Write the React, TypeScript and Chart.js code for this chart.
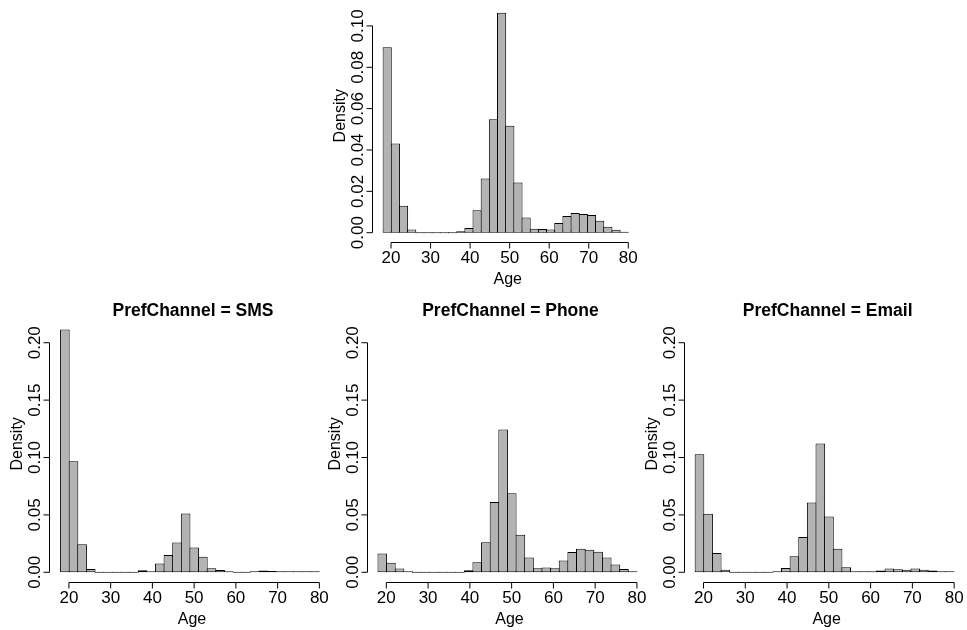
import React, { useEffect, useRef } from "react";
import { Chart, registerables } from "chart.js";

Chart.register(...registerables);

// ---------------- data ----------------
const AGE_BREAKS = [
  18, 20.07, 22.13, 24.2, 26.27, 28.33, 30.4, 32.47, 34.53, 36.6, 38.67,
  40.73, 42.8, 44.87, 46.93, 49, 51.07, 53.13, 55.2, 57.27, 59.33, 61.4,
  63.47, 65.53, 67.6, 69.67, 71.73, 73.8, 75.87, 77.93, 80,
];

const DENSITY_ALL = [
  0.0897, 0.0432, 0.013, 0.0016, 0, 0, 0, 0, 0, 0.0007, 0.0023, 0.0108,
  0.0262, 0.0549, 0.1064, 0.0517, 0.0243, 0.0074, 0.0019, 0.0018, 0.0016,
  0.0047, 0.0081, 0.0095, 0.009, 0.0085, 0.0058, 0.0029, 0.0014, 0.0003,
];

const DENSITY_SMS = [
  0.2116, 0.0968, 0.0244, 0.0029, 0, 0, 0, 0, 0, 0.0017, 0.0006, 0.0076,
  0.0151, 0.0259, 0.0512, 0.0215, 0.0136, 0.0035, 0.002, 0.0006, 0, 0,
  0.0006, 0.0015, 0.0012, 0.0009, 0.0006, 0.0003, 0.0003, 0.0002,
];

const DENSITY_PHONE = [
  0.0163, 0.0084, 0.0032, 0.0006, 0, 0, 0, 0, 0, 0, 0.0017, 0.0087, 0.0261,
  0.0613, 0.1243, 0.0688, 0.0328, 0.0128, 0.0035, 0.0041, 0.0035, 0.0102,
  0.0177, 0.0206, 0.0197, 0.018, 0.0128, 0.0067, 0.0029, 0.0006,
];

const DENSITY_EMAIL = [
  0.1028, 0.0511, 0.0168, 0.0023, 0, 0, 0, 0, 0, 0.0006, 0.0038, 0.0139,
  0.0308, 0.0607, 0.1121, 0.0485, 0.0206, 0.0044, 0.0006, 0.0006, 0.0003,
  0.0015, 0.0032, 0.0026, 0.0023, 0.0032, 0.0023, 0.0015, 0.0006, 0.0003,
];

const AGE_TICKS = [20, 30, 40, 50, 60, 70, 80];
const DENSITY_TICKS_ALL = [0, 0.02, 0.04, 0.06, 0.08, 0.1];
const DENSITY_TICKS_CHANNEL = [0, 0.05, 0.1, 0.15, 0.2];

const X_TITLE = "Age";
const Y_TITLE = "Density";
const TITLE_ALL = "";
const TITLE_SMS = "PrefChannel = SMS";
const TITLE_PHONE = "PrefChannel = Phone";
const TITLE_EMAIL = "PrefChannel = Email";

// ---------------- style / layout ----------------
const W = 967;
const H = 630;
const FONT = '"Liberation Sans", Arial, Helvetica, sans-serif';
const TICK_FONT = 17;
const LABEL_FONT = 16;
const TITLE_FONT = 17.5;
const TICK_LEN = 6;
const BAR_FILL = "#b3b3b3";

type Area = { left: number; right: number; top: number; bottom: number };
type PanelSpec = {
  values: number[];
  yTicks: number[];
  yMax: number;
  title: string;
  area: Area;
};

const CHANNEL_MAX = Math.max(...DENSITY_SMS, ...DENSITY_PHONE, ...DENSITY_EMAIL);
const ALL_MAX = Math.max(...DENSITY_ALL);

const BOTTOM_TOP = 319.7;
const BOTTOM_BOTTOM = 582.0;

const PANELS: PanelSpec[] = [
  {
    values: DENSITY_ALL,
    yTicks: DENSITY_TICKS_ALL,
    yMax: ALL_MAX,
    title: TITLE_ALL,
    area: { left: 373.3, right: 638.1, top: 3.9, bottom: 241.5 },
  },
  {
    values: DENSITY_SMS,
    yTicks: DENSITY_TICKS_CHANNEL,
    yMax: CHANNEL_MAX,
    title: TITLE_SMS,
    area: { left: 50.2, right: 329.7, top: BOTTOM_TOP, bottom: BOTTOM_BOTTOM },
  },
  {
    values: DENSITY_PHONE,
    yTicks: DENSITY_TICKS_CHANNEL,
    yMax: CHANNEL_MAX,
    title: TITLE_PHONE,
    area: { left: 367.6, right: 647.3, top: BOTTOM_TOP, bottom: BOTTOM_BOTTOM },
  },
  {
    values: DENSITY_EMAIL,
    yTicks: DENSITY_TICKS_CHANNEL,
    yMax: CHANNEL_MAX,
    title: TITLE_EMAIL,
    area: { left: 684.8, right: 964.5, top: BOTTOM_TOP, bottom: BOTTOM_BOTTOM },
  },
];

const X_LO = AGE_BREAKS[0];
const X_HI = AGE_BREAKS[AGE_BREAKS.length - 1];
const X_MIN = X_LO - 0.04 * (X_HI - X_LO);
const X_MAX = X_HI + 0.04 * (X_HI - X_LO);

function makeAxesPlugin(spec: PanelSpec) {
  return {
    id: "rAxes",
    afterDatasetsDraw(chart: any) {
      const { ctx, chartArea: a } = chart;
      const xs = chart.scales.x;
      const ys = chart.scales.y;
      ctx.save();
      ctx.strokeStyle = "#000";
      ctx.fillStyle = "#000";
      ctx.lineWidth = 1;

      // x axis (R style: line spans first..last tick)
      const yb = Math.round(a.bottom) + 0.5;
      const xFirst = xs.getPixelForValue(AGE_TICKS[0]);
      const xLast = xs.getPixelForValue(AGE_TICKS[AGE_TICKS.length - 1]);
      ctx.beginPath();
      ctx.moveTo(xFirst, yb);
      ctx.lineTo(xLast, yb);
      AGE_TICKS.forEach((t) => {
        const px = xs.getPixelForValue(t);
        ctx.moveTo(px, yb);
        ctx.lineTo(px, yb + TICK_LEN);
      });
      // y axis
      const xl = Math.round(a.left) - 0.5;
      const yFirst = ys.getPixelForValue(spec.yTicks[0]);
      const yLast = ys.getPixelForValue(spec.yTicks[spec.yTicks.length - 1]);
      ctx.moveTo(xl, yFirst);
      ctx.lineTo(xl, yLast);
      spec.yTicks.forEach((t) => {
        const py = ys.getPixelForValue(t);
        ctx.moveTo(xl, py);
        ctx.lineTo(xl - TICK_LEN, py);
      });
      ctx.stroke();

      // x tick labels
      ctx.font = `${TICK_FONT}px ${FONT}`;
      ctx.textAlign = "center";
      ctx.textBaseline = "middle";
      AGE_TICKS.forEach((t) => {
        ctx.fillText(String(t), xs.getPixelForValue(t), yb + 16);
      });
      // y tick labels (rotated)
      spec.yTicks.forEach((t) => {
        ctx.save();
        ctx.translate(xl - 14, ys.getPixelForValue(t));
        ctx.rotate(-Math.PI / 2);
        ctx.fillText(t.toFixed(2), 0, 0);
        ctx.restore();
      });

      // axis titles
      const cx = (a.left + a.right) / 2;
      const cy = (a.top + a.bottom) / 2;
      ctx.font = `${LABEL_FONT}px ${FONT}`;
      ctx.fillText(X_TITLE, cx + 2, yb + 37);
      ctx.save();
      ctx.translate(xl - 32, cy - 7);
      ctx.rotate(-Math.PI / 2);
      ctx.fillText(Y_TITLE, 0, 0);
      ctx.restore();

      // panel title
      if (spec.title) {
        ctx.font = `bold ${TITLE_FONT}px ${FONT}`;
        ctx.fillText(spec.title, cx + 3, a.top - 9);
      }
      ctx.restore();
    },
  };
}

function Panel({ spec }: { spec: PanelSpec }) {
  const ref = useRef<HTMLCanvasElement | null>(null);
  useEffect(() => {
    const canvas = ref.current;
    if (!canvas) return;
    const a = spec.area;
    const binPx =
      ((a.right - a.left) / (X_MAX - X_MIN)) * ((X_HI - X_LO) / spec.values.length);
    const points = spec.values.map((v, i) => ({
      x: (AGE_BREAKS[i] + AGE_BREAKS[i + 1]) / 2,
      y: v,
    }));
    const chart = new Chart(canvas, {
      type: "bar",
      data: {
        datasets: [
          {
            data: points as any,
            backgroundColor: BAR_FILL,
            borderColor: "#000",
            borderWidth: 1,
            borderSkipped: false,
            minBarLength: 1,
            barPercentage: 1 + 1 / binPx,
            categoryPercentage: 1,
          },
        ],
      },
      options: {
        responsive: false,
        animation: false,
        events: [],
        layout: {
          padding: { left: a.left, right: W - a.right, top: a.top, bottom: H - a.bottom },
        },
        plugins: {
          legend: { display: false },
          tooltip: { enabled: false },
          title: { display: false },
        },
        scales: {
          x: {
            type: "linear",
            min: X_MIN,
            max: X_MAX,
            offset: false,
            display: false,
            ticks: { stepSize: 10 },
          },
          y: {
            type: "linear",
            min: -0.04 * spec.yMax,
            max: 1.04 * spec.yMax,
            display: false,
          },
        },
      },
      plugins: [makeAxesPlugin(spec)],
    });
    return () => chart.destroy();
  }, [spec]);
  return (
    <canvas
      ref={ref}
      width={W}
      height={H}
      style={{ position: "absolute", left: 0, top: 0, width: W, height: H }}
    />
  );
}

export default function App() {
  return (
    <div
      style={{
        position: "fixed",
        left: 0,
        top: 0,
        width: W,
        height: H,
        background: "#fff",
        overflow: "hidden",
      }}
    >
      {PANELS.map((p, i) => (
        <Panel key={i} spec={p} />
      ))}
    </div>
  );
}
